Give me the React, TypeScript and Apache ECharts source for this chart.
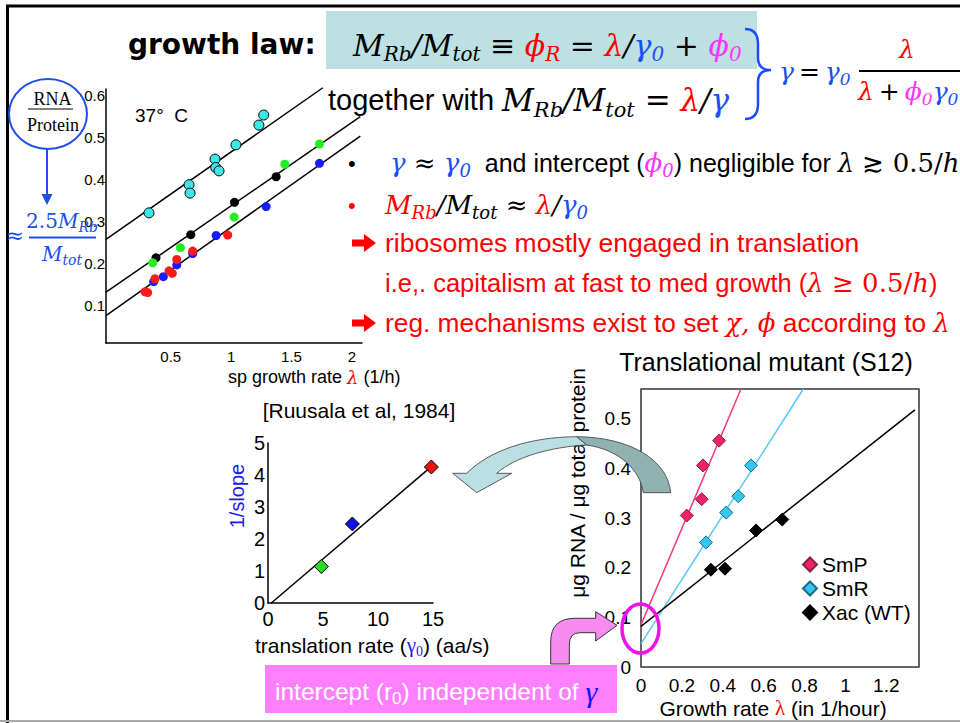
import React, { useEffect, useRef } from 'react';
import * as echarts from 'echarts';

// ---------------- DATA ----------------
// Top-left panel: RNA/Protein vs specific growth rate (37 °C)
const tlCyan = [[0.32, 0.32], [0.652, 0.387], [0.66, 0.367], [0.867, 0.448], [0.873, 0.428], [0.9, 0.42], [1.04, 0.482], [1.23, 0.529], [1.27, 0.553]];
const tlBlack = [[0.378, 0.213], [0.666, 0.268], [1.028, 0.345], [1.373, 0.406]];
const tlGreen = [[0.351, 0.201], [0.58, 0.237], [1.025, 0.31], [1.445, 0.436], [1.732, 0.484]];
const tlBlue = [[0.359, 0.156], [0.439, 0.168], [0.55, 0.196], [0.682, 0.223], [0.876, 0.266], [1.29, 0.335], [1.732, 0.438]];
const tlRed = [[0.287, 0.132], [0.309, 0.13], [0.37, 0.163], [0.486, 0.182], [0.513, 0.176], [0.55, 0.209], [0.682, 0.229], [0.972, 0.267]];
const tlFitUpper = [[-0.036, 0.257], [1.76, 0.618]];
const tlFitMiddle = [[-0.036, 0.131], [2.07, 0.549]];
const tlFitLower = [[-0.036, 0.075], [2.07, 0.503]];
const tlXTicks = [0.5, 1, 1.5, 2];
const tlYTicks = [0.1, 0.2, 0.3, 0.4, 0.5, 0.6];

// Middle panel: 1/slope vs translation rate [Ruusala et al, 1984]
const midGreen = [[4.85, 1.14]];
const midBlue = [[7.67, 2.47]];
const midRed = [[14.85, 4.25]];
const midFit = [[0.3, 0], [14.6, 4.19]];

// Bottom-right panel: Translational mutant (S12)
const brSmP = [[0.224, 0.305], [0.297, 0.338], [0.303, 0.406], [0.382, 0.456]];
const brSmR = [[0.318, 0.251], [0.417, 0.311], [0.476, 0.344], [0.538, 0.406]];
const brXac = [[0.342, 0.196], [0.411, 0.198], [0.563, 0.275], [0.691, 0.297]];
const brFitSmP = [[0, 0.085], [0.489, 0.56]];
const brFitSmR = [[0, 0.047], [0.794, 0.56]];
const brFitXac = [[0, 0.082], [1.34, 0.518]];
const brXTicks = [0, 0.2, 0.4, 0.6, 0.8, 1, 1.2];
const brYTicks = [0, 0.1, 0.2, 0.3, 0.4, 0.5];
const brNames = ['SmP', 'SmR', 'Xac (WT)'];

// ---------------- STYLE ----------------
const SANS = "'Liberation Sans', Arial, sans-serif";
const SERIF = "'DejaVu Serif', serif";
const TIMES = "'Liberation Serif', 'Times New Roman', serif";
const RED = '#ff0000';
const BLUE = '#1a50f0';
const PINK = '#ff33ff';
const TS = '\u2009';

const SHAPES: Record<string, string> = {
  tealArrowFront: 'M452.7 473.3 L466.7 473.3 C490 450 530 437 576.7 436.7 L586.7 445 C550 447 515 457 496.7 473.3 L511.7 473.3 L476.7 492.7 Z',
  tealArrowBack: 'M576.7 436.7 C630 437 668 460 670.7 492.7 L643.3 492.7 C640 470 620 450 586.7 445 Z',
  pinkBentArrow: 'M550.7 664 L550.7 642 Q550.7 618.3 575 618.3 L595.7 618.3 L595.7 611.7 L617 625.3 L595.7 641 L595.7 632.7 L580 632.7 Q569.3 632.7 569.3 645 L569.3 664 Z',
  blueBrace: 'M745 29 Q758 29 758 44 L758 58 Q758 70 771 70 Q758 70 758 82 L758 104 Q758 119 745 119',
  redArrow: 'M0 -3.5 L12 -3.5 L12 -9 L24 0 L12 9 L12 3.5 L0 3.5 Z',
};
let registered = false;
function registerShapes() {
  if (registered) return;
  registered = true;
  Object.keys(SHAPES).forEach((k) => {
    echarts.graphic.registerShape(k, echarts.graphic.extendPath(SHAPES[k], {}));
  });
}

function rich(size: number, sansSize?: number) {
  const lh = Math.round(size * 1.28);
  const ss = Math.round(size * 0.68);
  const ts = sansSize ?? size;
  const m = (fill: string, italic = true, family = SERIF) => ({ fontFamily: family, fontStyle: italic ? 'italic' : 'normal', fontSize: size, lineHeight: lh, fill, color: fill, verticalAlign: 'middle' });
  const s = (fill: string, family = SERIF, italic = true) => ({ fontFamily: family, fontStyle: italic ? 'italic' : 'normal', fontSize: ss, lineHeight: ss, fill, color: fill, verticalAlign: 'bottom' });
  const t = (fill: string) => ({ fontFamily: SANS, fontSize: ts, lineHeight: lh, fill, color: fill, verticalAlign: 'middle' });
  return {
    k: m('#000'), ks: s('#000'),
    r: m(RED), rs: s(RED),
    b: m(BLUE), bs: s(BLUE),
    p: m(PINK), ps: s(PINK),
    o: m('#000', false), ku: m('#000', false), ru: m(RED, false),
    bt: m('#1a1aee', false, TIMES), bts: s('#1a1aee', TIMES, false),
    rt: m(RED, false, TIMES),
    t: t('#000'), tr: t(RED), tw: t('#fff'),
    tws: { fontFamily: SANS, fontSize: Math.round(ts * 0.68), lineHeight: Math.round(ts * 0.68), fill: '#fff', color: '#fff', verticalAlign: 'bottom' },
  } as any;
}

function T(x: number, y: number, text: string, o: any = {}) {
  const align = o.align || 'left';
  return {
    type: 'text', x, y, z: o.z ?? 20, silent: true, rotation: o.rotation || 0,
    style: {
      text, rich: o.rich,
      fill: o.fill || '#000',
      fontFamily: o.fontFamily || SANS,
      fontSize: o.fontSize || 16,
      fontWeight: o.fontWeight || 'normal',
      fontStyle: o.fontStyle || 'normal',
      align, textAlign: align,
      verticalAlign: 'middle', textVerticalAlign: 'middle',
    },
  };
}

const fmt = (ticks: number[]) => (v: number) => (ticks.some((t) => Math.abs(t - v) < 1e-6) ? String(+v.toFixed(2)) : '');

function buildOption(): any {
  const axisLineBlack = { show: true, onZero: false, lineStyle: { color: '#000', width: 1.5 } };
  const scatterTL = (data: number[][], color: string, ring = false) => ({
    type: 'scatter', xAxisIndex: 0, yAxisIndex: 0, data, symbol: 'circle', symbolSize: ring ? 10 : 9, silent: true, z: 4,
    itemStyle: { color, borderColor: ring ? '#000' : color, borderWidth: ring ? 1 : 0, opacity: 1 },
  });
  const fit = (data: number[][], idx: number, color: string, width = 1.5) => ({
    type: 'line', xAxisIndex: idx, yAxisIndex: idx, data, showSymbol: false, symbol: 'none', clip: false, silent: true, z: 3,
    lineStyle: { color, width }, emphasis: { disabled: true },
  });
  const diamond = (name: string, data: number[][], idx: number, color: string, border: string, size = 13) => ({
    name, type: 'scatter', xAxisIndex: idx, yAxisIndex: idx, data, symbol: 'diamond', symbolSize: size, silent: true, z: 4,
    itemStyle: { color, borderColor: border, borderWidth: 1, opacity: 1 },
  });

  const g: any[] = [];
  // slide frame
  g.push({ type: 'line', z: 1, silent: true, shape: { x1: 6, y1: 6, x2: 960, y2: 6 }, style: { stroke: '#000', lineWidth: 3 } });
  g.push({ type: 'line', z: 1, silent: true, shape: { x1: 7.5, y1: 5, x2: 7.5, y2: 723 }, style: { stroke: '#000', lineWidth: 3 } });
  g.push({ type: 'line', z: 1, silent: true, shape: { x1: 0, y1: 721, x2: 960, y2: 721 }, style: { stroke: '#a8a8a8', lineWidth: 2 } });

  // growth law header
  g.push({ type: 'rect', z: 1, silent: true, shape: { x: 326, y: 11, width: 431, height: 58 }, style: { fill: '#bde0e3' } });
  g.push(T(128, 44, 'growth law:', { fontFamily: "'DejaVu Sans', Verdana, sans-serif", fontWeight: 'bold', fontSize: 28 }));
  g.push(T(353, 45, '{k|M}{ks|Rb}{k|/M}{ks|tot}{o| ≡ }{r|ϕ}{rs|R}{o| = }{r|λ}{k|/}{b|γ}{bs|0}{o| + }{p|ϕ}{ps|0}', { rich: rich(30) }));
  g.push(T(328, 100, '{t|together with }{k|M}{ks|Rb}{k|/M}{ks|tot}{o| = }{r|λ}{k|/}{b|γ}', { rich: rich(31, 29) }));
  g.push({ type: 'blueBrace', z: 21, silent: true, style: { fill: 'none', stroke: '#1a4cff', lineWidth: 2.5 } });
  g.push(T(779, 71, `{b|γ}{o|${TS}=${TS}}{b|γ}{bs|0}`, { rich: rich(25) }));
  g.push(T(907, 49, '{r|λ}', { rich: rich(25), align: 'center' }));
  g.push({ type: 'line', z: 20, silent: true, shape: { x1: 859, y1: 71, x2: 962, y2: 71 }, style: { stroke: '#000', lineWidth: 2 } });
  g.push(T(858, 91, `{r|λ}{o|${TS}+${TS}}{p|ϕ}{ps|0}{b|γ}{bs|0}`, { rich: rich(25) }));

  // bullets
  g.push(T(348, 163, '•', { fontSize: 22 }));
  g.push(T(390, 163, '{b|γ}{o| ≈ }{b|γ}{bs|0}{t|  and intercept (}{p|ϕ}{ps|0}{t|) negligible for }{k|λ}{o| ≳ }{ku|0.5/}{k|h}', { rich: rich(26, 25) }));
  g.push(T(348, 205, '•', { fontSize: 22, fill: RED }));
  g.push(T(385, 205, '{r|M}{rs|Rb}{k|/M}{ks|tot}{o| ≈ }{r|λ}{k|/}{b|γ}{bs|0}', { rich: rich(26) }));
  g.push({ type: 'redArrow', x: 352, y: 243, z: 20, silent: true, style: { fill: RED } });
  g.push(T(385, 243, 'ribosomes mostly engaged in translation', { fontSize: 26.5, fill: RED }));
  g.push(T(385, 283, '{tr|i.e,. capitalism at fast to med growth (}{r|λ}{ru| ≥ 0.5/}{r|h}{tr|)}', { rich: rich(26, 25.5) }));
  g.push({ type: 'redArrow', x: 352, y: 323, z: 20, silent: true, style: { fill: RED } });
  g.push(T(385, 323, '{tr|reg. mechanisms exist to set }{r|χ, ϕ}{tr| according to }{r|λ}', { rich: rich(26, 26.3) }));

  // left annotation: RNA / Protein
  g.push({ type: 'ellipse', z: 15, silent: true, shape: { cx: 48, cy: 114, rx: 39, ry: 35 }, style: { fill: 'none', stroke: '#1f4fe8', lineWidth: 2 } });
  g.push(T(52.5, 99, 'RNA', { fontFamily: TIMES, fontSize: 18, align: 'center' }));
  g.push({ type: 'line', z: 16, silent: true, shape: { x1: 28, y1: 109, x2: 73, y2: 109 }, style: { stroke: '#000', lineWidth: 1.2 } });
  g.push(T(53, 125, 'Protein', { fontFamily: TIMES, fontSize: 18, align: 'center' }));
  g.push({ type: 'line', z: 15, silent: true, shape: { x1: 47, y1: 149, x2: 47, y2: 196 }, style: { stroke: '#1f4fe8', lineWidth: 2 } });
  g.push({ type: 'polygon', z: 15, silent: true, shape: { points: [[41.5, 194], [52.5, 194], [47, 205]] }, style: { fill: '#1f4fe8' } });
  g.push(T(15, 235, '≈', { fontFamily: SERIF, fontSize: 22, fill: BLUE, align: 'center' }));
  const lr = rich(20);
  lr.u = { fontFamily: SERIF, fontSize: 20, lineHeight: 26, fill: BLUE, color: BLUE, verticalAlign: 'middle' };
  lr.i = { fontFamily: SERIF, fontStyle: 'italic', fontSize: 20, lineHeight: 26, fill: BLUE, color: BLUE, verticalAlign: 'middle' };
  lr.is = { fontFamily: SERIF, fontStyle: 'italic', fontSize: 14, lineHeight: 14, fill: BLUE, color: BLUE, verticalAlign: 'bottom' };
  g.push(T(62, 221, '{u|2.5}{i|M}{is|Rb}', { rich: lr, align: 'center', z: 22 }));
  g.push({ type: 'line', z: 22, silent: true, shape: { x1: 29, y1: 237.5, x2: 96, y2: 237.5 }, style: { stroke: BLUE, lineWidth: 2 } });
  g.push(T(62, 254, '{i|M}{is|tot}', { rich: lr, align: 'center', z: 22 }));

  // top-left panel texts
  g.push(T(135, 115, '37°  C', { fontSize: 19 }));
  const tlr = rich(18, 18);
  g.push(T(228, 377, '{t|sp growth rate }{r|λ}{t| (1/h)}', { rich: tlr }));

  // middle panel texts
  g.push(T(359, 410, '[Ruusala et al, 1984]', { fontSize: 21, align: 'center' }));
  g.push(T(237, 496, '1/slope', { fontSize: 20, fill: '#1a1aee', align: 'center', rotation: Math.PI / 2 }));
  g.push(T(255, 645, '{t|translation rate (}{bt|γ}{bts|0}{t|) (aa/s)}', { rich: rich(21, 21) }));

  // bottom-right panel texts
  g.push(T(766, 362, 'Translational mutant (S12)', { fontSize: 25, align: 'center' }));
  g.push(T(577, 483, 'μg RNA / μg total protein', { fontSize: 21, align: 'center', rotation: Math.PI / 2, z: 5 }));
  g.push(T(773, 708, '{t|Growth rate }{rt|λ}{t| (in 1/hour)}', { rich: rich(21, 21), align: 'center' }));

  // big curved teal arrow
  g.push({ type: 'tealArrowBack', z: 30, silent: true, style: { fill: '#90b2b2', stroke: '#3a3a3a', lineWidth: 0.8 } });
  g.push({ type: 'tealArrowFront', z: 30, silent: true, style: { fill: '#b9dfe2', stroke: '#3a3a3a', lineWidth: 0.8 } });

  // pink bent arrow + box + ellipse
  g.push({ type: 'pinkBentArrow', z: 30, silent: true, style: { fill: '#f78cf0', stroke: '#333', lineWidth: 1 } });
  g.push({ type: 'rect', z: 31, silent: true, shape: { x: 265, y: 665, width: 352, height: 48 }, style: { fill: '#ff80ff' } });
  const pr = rich(24.5, 24.5);
  pr.g = { fontFamily: TIMES, fontStyle: 'italic', fontSize: 30, lineHeight: 30, fill: '#1010ff', color: '#1010ff', verticalAlign: 'middle' };
  g.push(T(275, 691, '{tw|intercept (r}{tws|0}{tw|) independent of }{g|γ}', { rich: pr, z: 32 }));
  g.push({ type: 'ellipse', z: 33, silent: true, shape: { cx: 640.5, cy: 628.5, rx: 18.5, ry: 24.5 }, style: { fill: 'none', stroke: '#ee11ee', lineWidth: 3.5 } });

  return {
    animation: false,
    backgroundColor: '#ffffff',
    textStyle: { fontFamily: SANS },
    grid: [
      { left: 106, top: 89, width: 256, height: 254 },
      { left: 268, top: 443, width: 165, height: 160 },
      { left: 641, top: 389, width: 278, height: 278, show: true, borderColor: '#333', borderWidth: 1.5, backgroundColor: 'transparent' },
    ],
    xAxis: [
      { gridIndex: 0, type: 'value', min: -0.036, max: 2.084, axisLine: axisLineBlack, axisTick: { show: false }, splitLine: { show: false }, axisLabel: { fontSize: 15, color: '#000', margin: 6, formatter: fmt(tlXTicks) } },
      { gridIndex: 1, type: 'value', min: 0, max: 15, interval: 5, axisLine: axisLineBlack, axisTick: { show: false }, splitLine: { show: false }, axisLabel: { fontSize: 20, color: '#000', margin: 6 } },
      { gridIndex: 2, type: 'value', min: 0, max: 1.36, interval: 0.2, axisLine: { show: false }, axisTick: { show: false }, splitLine: { show: false }, axisLabel: { fontSize: 19, color: '#000', margin: 9, formatter: fmt(brXTicks) } },
    ],
    yAxis: [
      { gridIndex: 0, type: 'value', min: 0.01, max: 0.615, axisLine: axisLineBlack, axisTick: { show: false }, splitLine: { show: false }, axisLabel: { fontSize: 15, color: '#000', margin: 1, formatter: fmt(tlYTicks) } },
      { gridIndex: 1, type: 'value', min: 0, max: 5, interval: 1, axisLine: axisLineBlack, axisTick: { show: false }, splitLine: { show: false }, axisLabel: { fontSize: 20, color: '#000', margin: 3 } },
      { gridIndex: 2, type: 'value', min: 0, max: 0.56, interval: 0.1, axisLine: { show: false }, axisTick: { show: false }, splitLine: { show: false }, axisLabel: { fontSize: 19, color: '#000', margin: 10, formatter: fmt(brYTicks) } },
    ],
    legend: {
      data: brNames, orient: 'vertical', left: 797, top: 549, icon: 'diamond', itemWidth: 14, itemHeight: 14, itemGap: 3,
      selectedMode: false, textStyle: { fontSize: 21, color: '#000', fontFamily: SANS },
    },
    series: [
      fit(tlFitUpper, 0, '#000'), fit(tlFitMiddle, 0, '#000'), fit(tlFitLower, 0, '#000'),
      scatterTL(tlCyan, '#3ee6e6', true), scatterTL(tlBlack, '#000'), scatterTL(tlGreen, '#22ee22'),
      scatterTL(tlBlue, '#1a1aff'), scatterTL(tlRed, '#ff1a1a'),
      fit(midFit, 1, '#000'),
      diamond('midGreen', midGreen, 1, '#22dd22', '#000', 14), diamond('midBlue', midBlue, 1, '#1010e0', '#000', 14), diamond('midRed', midRed, 1, '#ee1111', '#000', 14),
      fit(brFitSmP, 2, '#ff3377'), fit(brFitSmR, 2, '#55c8f5'), fit(brFitXac, 2, '#000'),
      diamond(brNames[0], brSmP, 2, '#ee2266', '#882244'), diamond(brNames[1], brSmR, 2, '#33c8f0', '#226688'), diamond(brNames[2], brXac, 2, '#000', '#000'),
    ],
    graphic: { elements: g },
  };
}

export default function App() {
  const ref = useRef<HTMLDivElement>(null);
  useEffect(() => {
    document.body.style.margin = '0';
    registerShapes();
    const chart = echarts.init(ref.current!, undefined, { renderer: 'svg' });
    chart.setOption(buildOption());
    return () => chart.dispose();
  }, []);
  return <div ref={ref} style={{ position: 'fixed', left: 0, top: 0, width: 960, height: 723, background: '#fff' }} />;
}
